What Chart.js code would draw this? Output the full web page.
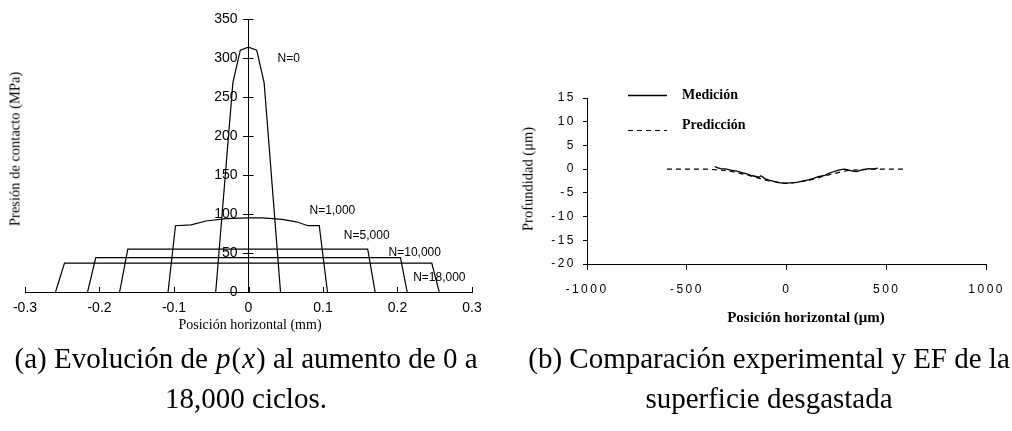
<!DOCTYPE html>
<html>
<head>
<meta charset="utf-8">
<script src="https://cdn.jsdelivr.net/npm/chart.js@4.4.1/dist/chart.umd.min.js"></script>
<style>
body{margin:0;background:#fff;width:1012px;height:431px;overflow:hidden;position:relative;font-family:"Liberation Serif",serif;color:#000}
#wrapA{position:absolute;left:0;top:0;width:500px;height:345px}
#wrapB{position:absolute;left:505px;top:0;width:507px;height:345px}
.ttl{position:absolute;font-size:14px;white-space:nowrap;transform:translate(-50%,-50%)}
.rot{transform:translate(-50%,-50%) rotate(-90deg)}
.cap{position:absolute;top:338px;font-size:29px;line-height:40px;text-align:center;white-space:nowrap}
.cap i{margin:0 1px}
</style>
</head>
<body>
<div id="wrapA"><canvas id="chartA"></canvas></div>
<div id="wrapB"><canvas id="chartB"></canvas></div>

<div class="ttl rot" style="left:15px;top:149px;font-size:14.5px">Presión de contacto (MPa)</div>
<div class="ttl" style="left:250px;top:325px">Posición horizontal (mm)</div>
<div class="ttl rot" style="left:528px;top:179px;font-size:14.5px">Profundidad (μm)</div>
<div class="ttl" style="left:806px;top:317px;font-weight:bold;font-size:15px">Posición horizontal (μm)</div>

<div class="cap" style="left:0;width:492px">(a) Evolución de <i>p</i>(<i>x</i>) al aumento de 0 a<br>18,000 ciclos.</div>
<div class="cap" style="left:524px;width:490px">(b) Comparación experimental y EF de la<br>superficie desgastada</div>

<script>
// (a) contact pressure profiles, x in mm, p in MPa
var n0X = [-0.044, -0.021, -0.011, 0, 0.011, 0.021, 0.043]
var n0Y = [0, 268, 310, 314, 310, 268, 0]
var n1kX = [-0.108, -0.098, -0.077, -0.057, -0.03, 0, 0.019, 0.045, 0.064, 0.08, 0.095, 0.106]
var n1kY = [0, 85, 86, 91, 94, 95, 95, 93, 90, 85, 85, 0]
var n5kX = [-0.173, -0.162, 0.16, 0.17]
var n5kY = [0, 55, 55, 0]
var n10kX = [-0.216, -0.205, 0.204, 0.213]
var n10kY = [0, 44, 44, 0]
var n18kX = [-0.259, -0.247, 0.246, 0.256]
var n18kY = [0, 37, 37, 0]
var nLabels = ['N=0', 'N=1,000', 'N=5,000', 'N=10,000', 'N=18,000']

// (b) wear profile, x in um, depth in um
var measX = [-360, -350, -330, -300, -280, -250, -220, -200, -180, -160, -140, -130, -110, -90, -70, -50, -30, -10, 10, 30, 50, 70, 90, 110, 130, 150, 170, 190, 210, 230, 250, 270, 290, 310, 330, 350, 370, 390, 410, 430, 455]
var measY = [0.6, 0.3, 0.1, 0.0, -0.2, -0.4, -0.8, -1.0, -1.3, -1.5, -1.7, -1.4, -2.0, -2.3, -2.5, -2.8, -2.9, -3.0, -2.9, -2.9, -2.8, -2.6, -2.4, -2.2, -2.0, -1.7, -1.5, -1.3, -0.9, -0.6, -0.3, -0.1, 0.0, -0.2, -0.4, -0.5, -0.2, -0.1, 0.1, 0.0, 0.2]
var predX = [-600, -400, -300, -200, -100, 0, 100, 200, 300, 400, 600]
var predY = [0, 0, -0.3, -1.2, -2.4, -3.0, -2.5, -1.3, -0.3, 0, 0]
var legendNames = ['Medición', 'Predicción']

// where the N= labels sit, in axis units
var labelAt = [[0.039, 299], [0.082, 104], [0.128, 72], [0.188, 50], [0.221, 18]]

function pts(xs, ys) {
  return xs.map(function (x, i) { return {x: x, y: ys[i]} })
}

var tickFont = {family: 'Liberation Sans', size: 14}

// y axis sits at x=0: Chart.js puts its labels right on the line, so draw them here
const crossTicks = {
  id: 'crossTicks',
  afterDraw(chart) {
    const ctx = chart.ctx, x = chart.scales.x, y = chart.scales.y
    const x0 = x.getPixelForValue(0), y0 = y.getPixelForValue(0)
    ctx.save()
    ctx.strokeStyle = '#000'
    ctx.lineWidth = 1
    ctx.beginPath()
    y.ticks.forEach(function (t) {
      const py = Math.round(y.getPixelForValue(t.value)) + 0.5
      ctx.moveTo(x0, py); ctx.lineTo(x0 + 5, py)
    })
    x.ticks.forEach(function (t) {
      const px = Math.round(x.getPixelForValue(t.value)) + 0.5
      ctx.moveTo(px, y0); ctx.lineTo(px, y0 - 5)
    })
    ctx.stroke()
    ctx.fillStyle = '#000'
    ctx.textBaseline = 'middle'
    ctx.font = '14px "Liberation Sans"'
    ctx.textAlign = 'right'
    y.ticks.forEach(function (t) {
      ctx.fillText(t.label, x0 - 11, y.getPixelForValue(t.value))
    })
    ctx.font = '12px "Liberation Sans"'
    ctx.textAlign = 'left'
    nLabels.forEach(function (s, i) {
      ctx.fillText(s, x.getPixelForValue(labelAt[i][0]), y.getPixelForValue(labelAt[i][1]))
    })
    ctx.restore()
  }
}

new Chart(document.getElementById('chartA'), {
  type: 'line',
  data: {
    datasets: [[n0X, n0Y], [n1kX, n1kY], [n5kX, n5kY], [n10kX, n10kY], [n18kX, n18kY]].map(function (s, i) {
      return {label: nLabels[i], data: pts(s[0], s[1]), borderColor: '#000', borderWidth: 1.2, pointRadius: 0, tension: 0}
    })
  },
  options: {
    responsive: true,
    maintainAspectRatio: false,
    animation: false,
    layout: {padding: {left: 25, right: 28, top: 19, bottom: 53}},
    plugins: {legend: {display: false}, tooltip: {enabled: false}},
    scales: {
      x: {
        type: 'linear', position: {y: 0}, min: -0.3, max: 0.3,
        ticks: {stepSize: 0.1, font: tickFont, color: '#000', padding: 8,
          callback: function (v) { return Math.abs(v) < 1e-9 ? '0' : v.toFixed(1) }},
        grid: {drawOnChartArea: false, drawTicks: false},
        border: {color: '#000', width: 1}
      },
      y: {
        type: 'linear', position: {x: 0}, min: 0, max: 350,
        ticks: {stepSize: 50, display: false},
        grid: {drawOnChartArea: false, tickLength: 5, color: '#000'},
        border: {color: '#000', width: 1}
      }
    }
  },
  plugins: [crossTicks]
})

const spacedTicks = {
  id: 'spacedTicks',
  beforeDraw(chart) { chart.ctx.letterSpacing = '2.5px' },
  afterDraw(chart) {
    const ctx = chart.ctx, area = chart.chartArea
    ctx.save()
    ctx.letterSpacing = '0px'
    ctx.strokeStyle = '#000'
    ctx.fillStyle = '#000'
    ctx.font = 'bold 14px "Liberation Serif"'
    ctx.textBaseline = 'middle'
    const rows = [[-3, -3], [27, 32]]
    chart.data.datasets.forEach(function (ds, i) {
      ctx.lineWidth = ds.borderWidth
      ctx.setLineDash(ds.borderDash || [])
      ctx.beginPath()
      ctx.moveTo(area.left + 41, Math.round(area.top + rows[i][1]) + 0.5)
      ctx.lineTo(area.left + 80, Math.round(area.top + rows[i][1]) + 0.5)
      ctx.stroke()
      ctx.fillText(ds.label, area.left + 95, area.top + rows[i][0])
    })
    ctx.restore()
    ctx.letterSpacing = '0px'
  }
}

new Chart(document.getElementById('chartB'), {
  type: 'line',
  data: {
    datasets: [
      {label: legendNames[0], data: pts(measX, measY), borderColor: '#000', borderWidth: 1.3, pointRadius: 0, tension: 0},
      {label: legendNames[1], data: pts(predX, predY), borderColor: '#000', borderWidth: 1.2, borderDash: [5, 4], pointRadius: 0, tension: 0}
    ]
  },
  options: {
    responsive: true,
    maintainAspectRatio: false,
    animation: false,
    layout: {padding: {left: 0, right: 20, top: 98, bottom: 0}},
    plugins: {legend: {display: false}, tooltip: {enabled: false}},
    scales: {
      x: {
        type: 'linear', position: 'bottom', min: -1000, max: 1000,
        ticks: {stepSize: 500, font: {family: 'Liberation Sans', size: 12}, color: '#000', padding: 12, maxRotation: 0,
          callback: function (v) { return String(v) }},
        grid: {drawOnChartArea: false, tickLength: 6, color: '#000'},
        border: {color: '#000'},
        afterFit: function (s) { s.height = 81 }
      },
      y: {
        type: 'linear', min: -20, max: 15,
        ticks: {stepSize: 5, font: {family: 'Liberation Sans', size: 12}, color: '#000', padding: 7,
          callback: function (v) { return String(v) }},
        grid: {drawOnChartArea: false, tickLength: 4, color: '#000'},
        border: {color: '#000'},
        afterFit: function (s) { s.width = 82 }
      }
    }
  },
  plugins: [spacedTicks]
})
</script>
</body>
</html>
